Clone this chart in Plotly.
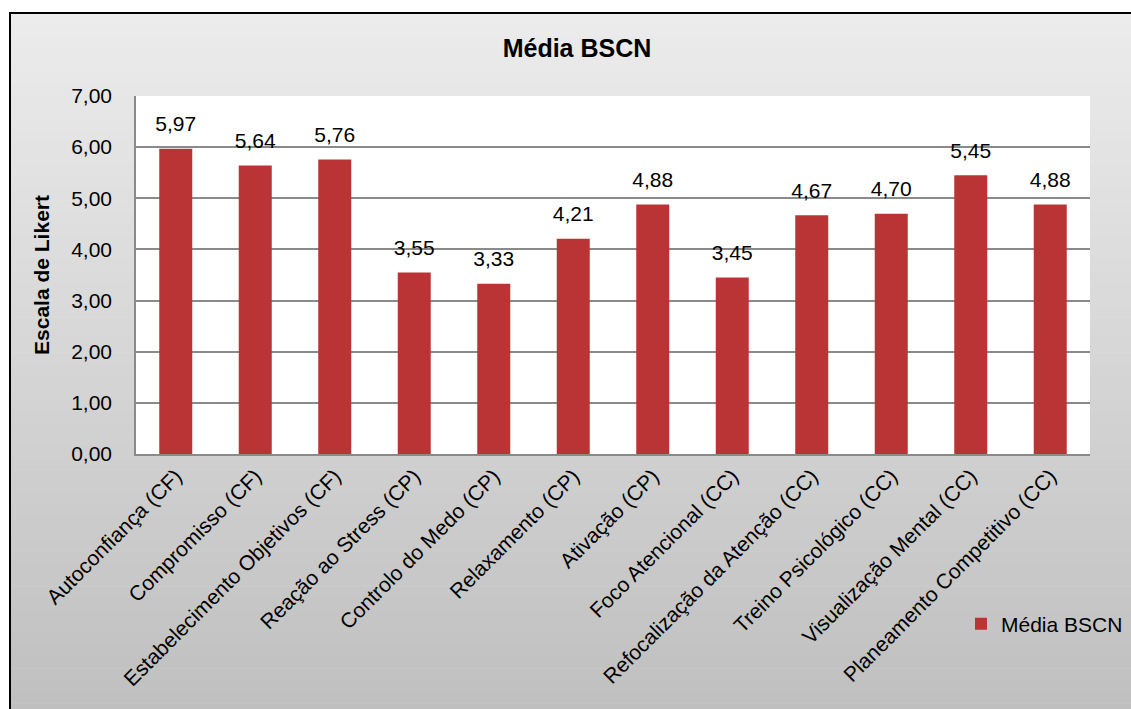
import plotly.graph_objects as go

# ---- data ----
categories = [
    "Autoconfiança (CF)", "Compromisso (CF)", "Estabelecimento Objetivos (CF)",
    "Reação ao Stress (CP)", "Controlo do Medo (CP)", "Relaxamento (CP)",
    "Ativação (CP)", "Foco Atencional (CC)", "Refocalização da Atenção (CC)",
    "Treino Psicológico (CC)", "Visualização Mental (CC)", "Planeamento Competitivo (CC)",
]
values = [5.97, 5.64, 5.76, 3.55, 3.33, 4.21, 4.88, 3.45, 4.67, 4.70, 5.45, 4.88]
series_name = "Média BSCN"
chart_title = "Média BSCN"
y_title = "Escala de Likert"
y_tick_values = [0, 1, 2, 3, 4, 5, 6, 7]

# ---- layout geometry (page pixels) ----
W, H = 1131, 709
PLOT_L, PLOT_R, PLOT_T, PLOT_B = 136, 1090, 96, 454
PW, PH = PLOT_R - PLOT_L, PLOT_B - PLOT_T
ML, MT = PLOT_L, PLOT_T
MR, MB = W - ML - PW, H - MT - PH

def px_x(p):
    return (p - PLOT_L) / PW

def px_y(p):
    return (PLOT_B - p) / PH

FONT = "Liberation Sans, Arial, sans-serif"
GRID = "#8a8a8a"
FS = 21

fig = go.Figure()
fig.add_trace(go.Bar(
    x=categories, y=values, name=series_name,
    marker=dict(color="#BA3436", line=dict(width=0)),
    showlegend=True, hoverinfo="x+y",
))
# value labels above the bars
fig.add_trace(go.Scatter(
    x=categories, y=values, mode="markers+text",
    marker=dict(size=18, color="rgba(0,0,0,0)", line=dict(width=0)),
    texttemplate="%{y:.2f}", textposition="top center",
    textfont=dict(size=FS, color="#000000", family=FONT),
    cliponaxis=False, showlegend=False, hoverinfo="skip",
))

shapes = []
# background gradient inside the outer frame
n = 60
top_px, bot_px = 13, 715
c_top, c_bot = 236, 191
for i in range(n):
    y0p = top_px + (bot_px - top_px) * i / n
    y1p = top_px + (bot_px - top_px) * (i + 1) / n
    c = round(c_top + (c_bot - c_top) * (i + 0.5) / n)
    col = f"rgb({c},{c},{c})"
    shapes.append(dict(type="rect", xref="paper", yref="paper", layer="below",
                       x0=px_x(10), x1=px_x(1145), y0=px_y(y1p + 0.5), y1=px_y(y0p),
                       fillcolor=col, line=dict(width=0)))
# white plot area
shapes.append(dict(type="rect", xref="paper", yref="paper", layer="below",
                   x0=0, x1=1, y0=0, y1=1, fillcolor="white", line=dict(width=0)))
# outer frame
shapes.append(dict(type="rect", xref="paper", yref="paper", layer="above",
                   x0=px_x(10), x1=px_x(1150), y0=px_y(730), y1=px_y(13),
                   fillcolor="rgba(0,0,0,0)", line=dict(color="black", width=2)))

fig.update_layout(
    width=W, height=H,
    margin=dict(l=ML, r=MR, t=MT, b=MB, autoexpand=False),
    paper_bgcolor="white", plot_bgcolor="white",
    separators=",.",
    font=dict(family=FONT, color="#000000", size=FS),
    title=dict(text=f"<b>{chart_title}</b>", x=px_x(577), xref="paper", xanchor="center",
               y=1 - 48 / H, yref="container", yanchor="middle",
               font=dict(size=25, family=FONT, color="#000000")),
    bargap=1 - 33 / 79.5,
    shapes=shapes,
    legend=dict(x=px_x(961), y=px_y(624), xref="paper", yref="paper",
                xanchor="left", yanchor="middle", bgcolor="rgba(0,0,0,0)",
                font=dict(size=FS, family=FONT, color="#000000"), borderwidth=0),
    xaxis=dict(tickangle=-45, showline=True, linecolor=GRID, linewidth=1.5,
               range=[-0.5, len(categories) - 0.5],
               ticks="", tickfont=dict(size=FS, family=FONT, color="#000000"),
               automargin=False, showgrid=False),
    yaxis=dict(range=[0, 7], tickvals=y_tick_values, tickformat=".2f",
               showgrid=True, gridcolor=GRID, gridwidth=1.5,
               showline=True, linecolor=GRID, linewidth=1.5,
               ticks="", ticklabelstandoff=18,
               tickfont=dict(size=FS, family=FONT, color="#000000"),
               title=dict(text=f"<b>{y_title}</b>", standoff=16,
                          font=dict(size=21, family=FONT, color="#000000")),
               automargin=False, zeroline=False),
)

fig.write_html(
    "out.html",
    config={"displayModeBar": False},
    post_script="document.body.style.margin='0';document.body.style.overflow='hidden';",
)
